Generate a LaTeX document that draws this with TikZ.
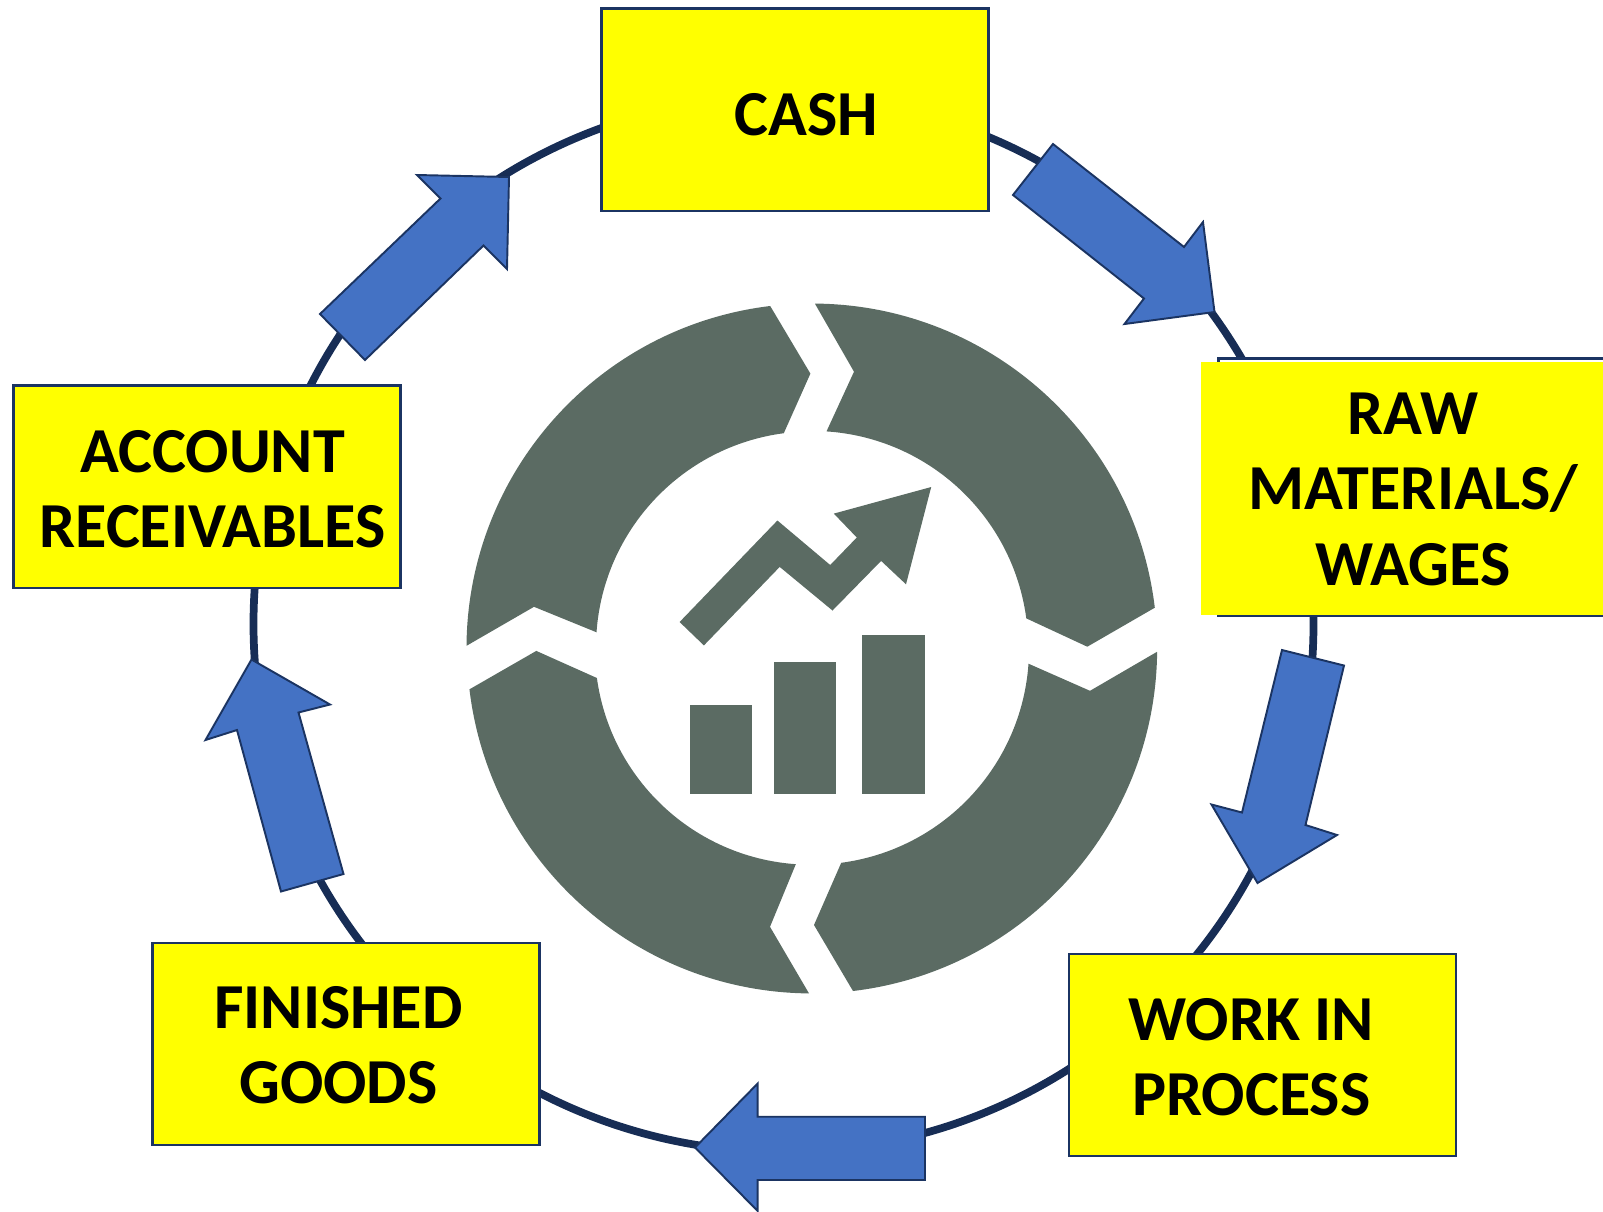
\documentclass[tikz,border=0pt]{standalone}
\usepackage{fontspec}
\usepackage{xcolor}
\setmainfont{Carlito}
\definecolor{ringnavy}{RGB}{23,45,85}
\definecolor{boxyellow}{RGB}{255,255,0}
\definecolor{flowblue}{RGB}{68,114,196}
\definecolor{flowedge}{RGB}{27,52,98}
\definecolor{iconslate}{RGB}{91,107,99}
\tikzset{
    stagebox/.style={draw=flowedge, line width=1.4pt, fill=boxyellow, minimum width=7.75cm, minimum height=4.05cm},
    stagetext/.style={align=center, font=\fontsize{36.5}{43}\selectfont\bfseries},
    flowarrow/.style={draw=flowedge, line width=1.1pt, fill=flowblue, line join=miter},
    iconpart/.style={fill=iconslate}
}

\begin{document}
\begin{tikzpicture}[x=0.02cm, y=0.02cm, yscale=-1]
    \useasboundingbox (0,0) rectangle (1603,1211);

    % Outer ring
    \coordinate (ring) at (783.5,624);
    \draw[ringnavy, line width=4.4pt] (ring) ellipse [x radius=530, y radius=528];

    % Stages
    \node[stagebox] (Cash) at (795,109.5) {};
    \node[stagebox] (Accounts) at (207,486.6) {};
    \node[stagebox] (Finished) at (346,1044) {};
    \node[stagebox] (Process) at (1262.5,1055) {};

    % Raw materials box runs off the page, its fill sits over the outline
    \draw[draw=flowedge, line width=1.4pt, fill=white] (1218.5,358.5) rectangle (1640,615.5);
    \fill[boxyellow] (1201,362) rectangle (1603,615);

    \node[stagetext] (CashText) at (806.6,114.5) {CASH};
    \node[stagetext] (RawText) at (1413,489) {RAW\\MATERIALS/\\WAGES};
    \node[stagetext] (AccountsText) at (212.6,489) {ACCOUNT\\RECEIVABLES};
    \node[stagetext] (FinishedText) at (338.4,1045) {FINISHED\\GOODS};
    \node[stagetext] (ProcessText) at (1251.3,1057) {WORK IN\\PROCESS};

    % Block arrows along the ring
    \draw[flowarrow] (1053,144) -- (1184,247) -- (1203,222) -- (1214.5,312) -- (1124.5,324) -- (1144,298.5) -- (1013,195) -- cycle;
    \draw[flowarrow] (1282,650) -- (1344,665.5) -- (1305.5,825) -- (1337,835) -- (1257.5,883) -- (1211.5,804.5) -- (1242,812.5) -- cycle;
    \draw[flowarrow] (925,1116.7) -- (757.7,1116.7) -- (757.7,1083.5) -- (695,1147.5) -- (757.7,1211) -- (757.7,1180) -- (925,1180) -- cycle;
    \draw[flowarrow] (343.5,874) -- (281,891.5) -- (237,730) -- (205.5,740) -- (251.5,659.5) -- (330,704.5) -- (298.5,712.5) -- cycle;
    \draw[flowarrow] (365,360) -- (320,314) -- (440.5,198.5) -- (417,175) -- (509,177) -- (507,269) -- (483.5,245.5) -- cycle;

    % Central icon, four ring segments
    \fill[iconpart] (815,303.8) -- (854,371.7) -- (826.5,431.4) arc[start angle=-86.2, end angle=-7.6, radius=216] -- (1087.3,646.7) -- (1154.8,607.7) arc[start angle=-6.8, end angle=-89.5, radius=345] -- cycle;
    \fill[iconpart] (770.5,306.5) -- (810.4,373.6) -- (783.8,433.2) arc[start angle=-97.5, end angle=-176, radius=216] -- (534,606.8) -- (466.5,645.8) arc[start angle=-179.55, end angle=-96.9, radius=345] -- cycle;
    \fill[iconpart] (469.3,689.4) -- (536.3,650.9) -- (596.9,678) arc[start angle=172.2, end angle=94, radius=216] -- (770,926.8) -- (809,993.4) arc[start angle=90.5, end angle=173.2, radius=345] -- cycle;
    \fill[iconpart] (1157,651.8) -- (1090,690.8) -- (1028.5,663.7) arc[start angle=4, end angle=82.5, radius=216] -- (814,925) -- (853,991) arc[start angle=83.2, end angle=0.55, radius=345] -- cycle;

    % Rising arrow
    \fill[iconpart] (679.6,622) -- (777.4,520.5) -- (830.2,565) -- (856.8,537.5) -- (833.8,513.6) -- (931.2,487) -- (906,584.3) -- (881.1,560.9) -- (832.5,610.5) -- (779.7,566.9) -- (703.9,645.4) -- cycle;

    % Bars
    \foreach \xa/\xb/\ytop in {689.7/752.1/704.6, 774.1/836.1/662.4, 862.3/924.7/635.3}
    {
        \fill[iconpart] (\xa,\ytop) rectangle (\xb,794.1);
    }
\end{tikzpicture}
\end{document}
